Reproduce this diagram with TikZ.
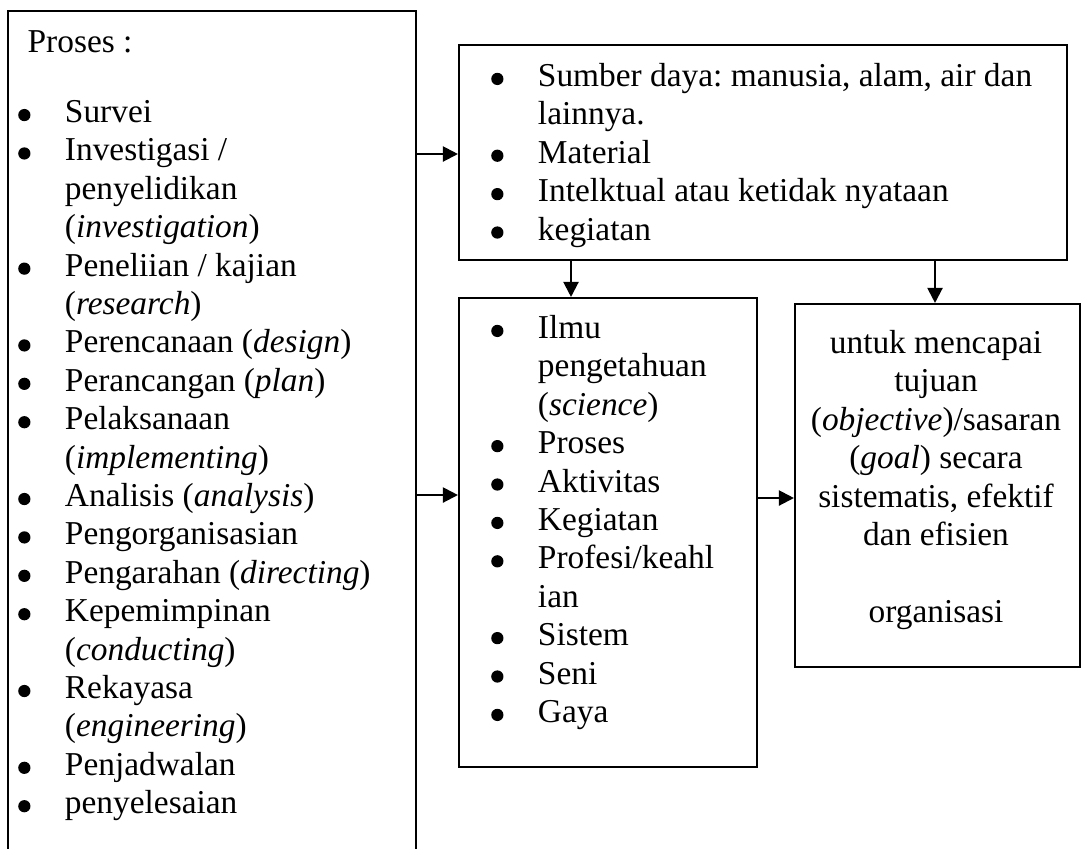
\documentclass[tikz,border=0pt]{standalone}
\usepackage{fontspec}
\setmainfont{Liberation Serif}
\usetikzlibrary{arrows.meta,fit}

\newcommand{\bul}{\makebox[17.4pt][l]{\hspace*{0.6pt}\tikz[baseline=0pt]\fill (2.2pt,2.7pt) circle[radius=2.2pt];}}
\newcommand{\gap}{\hspace*{17.4pt}}

\tikzset{
  box/.style={draw, line width=0.75pt, inner sep=0pt},
  txt/.style={inner sep=0pt, font=\fontsize{12}{13.8}\selectfont\frenchspacing},
  arr/.style={-{Triangle[length=5.4pt,width=5.4pt]}, line width=0.75pt}
}

\begin{document}
\begin{tikzpicture}[x=0.3594pt, y=-0.3594pt]
	\useasboundingbox (0,0) rectangle (1082,848);
	% boxes
	\node[box, fit={(8,11) (416,870)}] (proc) {};
	\node[box, fit={(459,45) (1067,260)}] (res) {};
	\node[box, fit={(459,298) (757,767)}] (ilmu) {};
	\node[box, fit={(795,304) (1080,667)}] (goal) {};
	% texts
	\node[txt, anchor=north west, align=left] (proctxt) at (16,25) {\strut\hspace*{4pt}Proses :\\[11.4pt]
		\bul Survei\\
		\bul Investigasi /\\
		\gap penyelidikan\\
		\gap (\textit{investigation})\\
		\bul Peneliian / kajian\\
		\gap (\textit{research})\\
		\bul Perencanaan (\textit{design})\\
		\bul Perancangan (\textit{plan})\\
		\bul Pelaksanaan\\
		\gap (\textit{implementing})\\
		\bul Analisis (\textit{analysis})\\
		\bul Pengorganisasian\\
		\bul Pengarahan (\textit{directing})\\
		\bul Kepemimpinan\\
		\gap (\textit{conducting})\\
		\bul Rekayasa\\
		\gap (\textit{engineering})\\
		\bul Penjadwalan\\
		\bul penyelesaian};
	\node[txt, anchor=north west, align=left] (restxt) at (489,59) {\strut\bul Sumber daya: manusia, alam, air dan\\
		\gap lainnya.\\
		\bul Material\\
		\bul Intelktual atau ketidak nyataan\\
		\bul kegiatan};
	\node[txt, anchor=north west, align=left] (ilmutxt) at (489,311) {\strut\bul Ilmu\\
		\gap pengetahuan\\
		\gap (\textit{science})\\
		\bul Proses\\
		\bul Aktivitas\\
		\bul Kegiatan\\
		\bul Profesi/keahl\\
		\gap ian\\
		\bul Sistem\\
		\bul Seni\\
		\bul Gaya};
	\node[txt, anchor=north, align=center] (goaltxt) at (936,326) {\strut untuk mencapai\\
		tujuan\\
		(\textit{objective})/sasaran\\
		(\textit{goal}) secara\\
		sistematis, efektif\\
		dan efisien\\[13.8pt]
		organisasi};
	% arrows
	\coordinate (r1) at (0,154);
	\coordinate (r2) at (0,495);
	\coordinate (r3) at (0,498);
	\coordinate (c1) at (571,0);
	\coordinate (c2) at (935,0);
	\draw[arr] (proc.east |- r1) -- (res.west |- r1);
	\draw[arr] (proc.east |- r2) -- (ilmu.west |- r2);
	\draw[arr] (ilmu.east |- r3) -- (goal.west |- r3);
	\draw[arr] (res.south -| c1) -- (ilmu.north -| c1);
	\draw[arr] (res.south -| c2) -- (goal.north -| c2);
\end{tikzpicture}
\end{document}
